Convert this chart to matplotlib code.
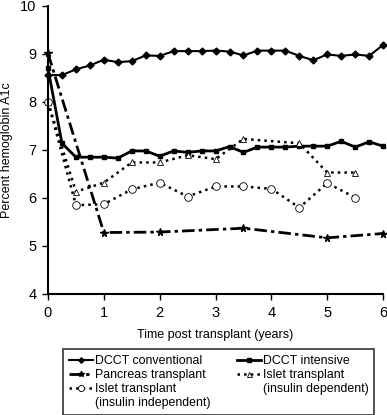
import numpy as np
import matplotlib
matplotlib.use('Agg')
import matplotlib.pyplot as plt
from matplotlib.lines import Line2D

plt.rcParams['font.family'] = ['Liberation Sans', 'DejaVu Sans']

# DCCT arms, every quarter year
dcctYears = [0, 0.25, 0.5, 0.75, 1.0, 1.25, 1.5, 1.75, 2.0, 2.25, 2.5, 2.75, 3.0,
             3.25, 3.5, 3.75, 4.0, 4.25, 4.5, 4.75, 5.0, 5.25, 5.5, 5.75, 6.0]
conventional = [8.56, 8.56, 8.68, 8.76, 8.88, 8.83, 8.85, 8.97, 8.96, 9.06, 9.06, 9.06, 9.07,
                9.05, 8.97, 9.07, 9.07, 9.07, 8.96, 8.87, 8.99, 8.96, 8.99, 8.96, 9.19]
intensive = [8.70, 7.14, 6.85, 6.85, 6.85, 6.83, 6.98, 6.98, 6.87, 6.98, 6.95, 6.98, 6.98,
             7.07, 6.95, 7.06, 7.06, 7.06, 7.08, 7.08, 7.08, 7.18, 7.06, 7.17, 7.08]

pancreasYears = [0, 1.0, 2.0, 3.5, 5.0, 6.0]
pancreas = [9.01, 5.28, 5.29, 5.37, 5.17, 5.26]

isletDepYears = [0, 0.5, 1.0, 1.5, 2.0, 2.5, 3.0, 3.5, 4.5, 5.0, 5.5]
isletDep = [8.0, 6.13, 6.32, 6.74, 6.74, 6.89, 6.81, 7.23, 7.14, 6.53, 6.53]

isletIndepYears = [0, 0.5, 1.0, 1.5, 2.0, 2.5, 3.0, 3.5, 4.0, 4.5, 5.0, 5.5]
isletIndep = [8.0, 5.85, 5.87, 6.18, 6.32, 6.03, 6.24, 6.24, 6.19, 5.80, 6.31, 6.01]

fig = plt.figure(figsize=(3.87, 4.15), dpi=100)
ax = fig.add_axes([0.124, 0.2916, 0.866, 0.694])

l1, = ax.plot(dcctYears, conventional, '-', color='black', lw=1.5, marker='D', ms=3.5,
              clip_on=False, label='DCCT conventional')
l4, = ax.plot(dcctYears, intensive, '-', color='black', lw=2.0, marker='s', ms=3.5,
              clip_on=False, label='DCCT intensive')
l2, = ax.plot(pancreasYears, pancreas, color='black', lw=2.0, dashes=(4.5, 1.5, 1.2, 1.5),
              marker='*', ms=5.5, clip_on=False, label='Pancreas transplant')
l5, = ax.plot(isletDepYears, isletDep, ':', color='black', lw=1.8, marker='^', ms=4.5,
              mfc='white', mew=0.6, clip_on=False, label='Islet transplant')
l3, = ax.plot(isletIndepYears, isletIndep, ':', color='black', lw=1.8, marker='o', ms=5.5,
              mfc='white', mew=0.6, clip_on=False, label='Islet transplant')

ax.set_xlim(0, 6)
ax.set_ylim(4, 10)
ax.set_xticks(range(0, 7))
ax.set_yticks(range(4, 11))
ax.spines['top'].set_visible(False)
ax.spines['right'].set_visible(False)
ax.spines['left'].set_linewidth(1.5)
ax.spines['bottom'].set_linewidth(1.5)
ax.tick_params(direction='out', length=4.3, width=1, labelsize=10.5, pad=4)
ax.set_xlabel('Time post transplant (years)', fontsize=9, labelpad=7)
ax.set_ylabel('Percent hemoglobin A1c', fontsize=9)
ax.yaxis.set_label_coords(-0.105, 0.5)

# second lines of the two-line labels sit under the text, not the handle
blank = lambda txt: Line2D([], [], linestyle='none', label=txt)
handles = [l1, l2, l3, blank('(insulin independent)'),
           l4, l5, blank('(insulin dependent)'), blank('')]

leg = fig.legend(handles=handles, loc='upper left', bbox_to_anchor=(63 / 387, 1 - 349 / 415),
                 ncol=2, fontsize=8.9, frameon=True, fancybox=False, edgecolor='black',
                 handlelength=1.9, handletextpad=0.15, labelspacing=0.15,
                 borderpad=0.5, columnspacing=2.2, borderaxespad=0, markerscale=0.8)
leg.get_frame().set_linewidth(1.2)

fig.savefig('out.png', dpi=100)
